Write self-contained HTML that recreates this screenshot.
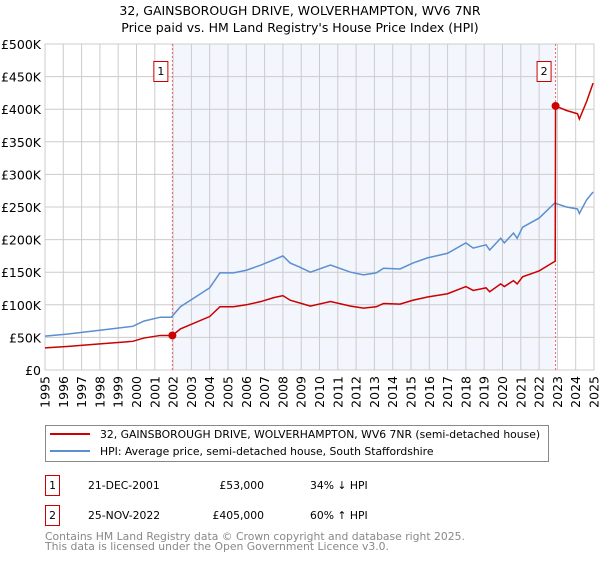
<!DOCTYPE html>
<html><head><meta charset="utf-8"><style>
body{margin:0;width:600px;height:560px;background:#fff;font-family:"DejaVu Sans","Liberation Sans",sans-serif;overflow:hidden}
svg text{font-family:"DejaVu Sans","Liberation Sans",sans-serif}
</style></head><body>
<svg id="c" width="600" height="560">
<text x="300" y="15" text-anchor="middle" font-size="12.5">32, GAINSBOROUGH DRIVE, WOLVERHAMPTON, WV6 7NR</text>
<text x="300" y="32" text-anchor="middle" font-size="12.5">Price paid vs. HM Land Registry's House Price Index (HPI)</text>
<g id="plot"></g>
<g>
<rect x="45.5" y="425.5" width="503" height="36" fill="#fff" stroke="#888"/>
<line x1="50" y1="434" x2="90" y2="434" stroke="#cc0000" stroke-width="2"/>
<text x="100" y="438" font-size="10.8">32, GAINSBOROUGH DRIVE, WOLVERHAMPTON, WV6 7NR (semi-detached house)</text>
<line x1="50" y1="451" x2="90" y2="451" stroke="#5b8fd0" stroke-width="2"/>
<text x="100" y="455" font-size="10.8">HPI: Average price, semi-detached house, South Staffordshire</text>
</g>
<g font-size="10.8">
<rect x="45.5" y="475.5" width="14" height="20" fill="#fff" stroke="#cc0000"/>
<text x="52.5" y="489" text-anchor="middle">1</text>
<text x="88" y="489">21-DEC-2001</text>
<text x="264" y="489" text-anchor="end">£53,000</text>
<text x="310" y="489">34% ↓ HPI</text>
<rect x="45.5" y="505.5" width="14" height="20" fill="#fff" stroke="#cc0000"/>
<text x="52.5" y="519" text-anchor="middle">2</text>
<text x="88" y="519">25-NOV-2022</text>
<text x="264" y="519" text-anchor="end">£405,000</text>
<text x="310" y="519">60% ↑ HPI</text>
</g>
<text x="45" y="540" font-size="10.8" fill="#888">Contains HM Land Registry data © Crown copyright and database right 2025.</text>
<text x="45" y="550" font-size="10.8" fill="#888">This data is licensed under the Open Government Licence v3.0.</text>
</svg>
<script>
const hpiYears=[1995,1996.2,1998,1999.8,2000.4,2001.3,2001.9,2002.4,2004.0,2004.56,2005.3,2006,2006.8,2007.5,2008.0,2008.4,2008.9,2009.5,2010.6,2011.7,2012.4,2013.1,2013.5,2014.4,2015.1,2015.9,2017.0,2018.0,2018.4,2019.1,2019.3,2019.9,2020.1,2020.6,2020.8,2021.1,2022.0,2022.85,2023.5,2024.1,2024.2,2024.6,2024.95];
const hpiValues=[52,55,61,67,75,81,81,97,126,149,149,153,161,169,175,164,158,150,161,150,146,149,156,155,164,172,179,195,187,192,184,202,195,210,202,219,233,256,250,247,240,261,273];
const priceYears=[1995,1996.2,1998,1999.8,2000.4,2001.3,2001.96,2002.4,2004.0,2004.56,2005.3,2006,2006.8,2007.5,2008.0,2008.4,2008.9,2009.5,2010.6,2011.7,2012.4,2013.1,2013.5,2014.4,2015.1,2015.9,2017.0,2018.0,2018.4,2019.1,2019.3,2019.9,2020.1,2020.6,2020.8,2021.1,2022.0,2022.88,2022.9,2023.5,2024.1,2024.2,2024.6,2024.95];
const priceValues=[34,36,40,44,49,53,53,63,82,97,97,100,105,111,114,107,103,98,105,98,95,97,102,101,107,112,117,128,122,126,120,132,128,137,132,143,152,167,405,398,393,385,412,440];
const saleYears=[2001.96,2022.9];
const saleValues=[53,405];
const yTicks=[0,50,100,150,200,250,300,350,400,450,500];
const yTickLabels=["£0","£50K","£100K","£150K","£200K","£250K","£300K","£350K","£400K","£450K","£500K"];
const xTicks=[1995,1996,1997,1998,1999,2000,2001,2002,2003,2004,2005,2006,2007,2008,2009,2010,2011,2012,2013,2014,2015,2016,2017,2018,2019,2020,2021,2022,2023,2024,2025];

const X0=45,X1=594,Y0=370,Y1=44;
const xs=y=>X0+(y-1995)/30*(X1-X0);
const ys=v=>Y0-v/500*(Y0-Y1);
const NS="http://www.w3.org/2000/svg";
const g=document.getElementById('plot');
function mk(t,a){const e=document.createElementNS(NS,t);for(const k in a)e.setAttribute(k,a[k]);g.appendChild(e);return e;}

const sh=mk('rect',{x:xs(saleYears[0]),y:Y1,width:xs(saleYears[1])-xs(saleYears[0]),height:Y0-Y1,fill:'#f3f6fd'});


xTicks.forEach(t=>{
 const l=mk('line',{x1:xs(t),x2:xs(t),y1:Y1,y2:Y0,stroke:'#cccccc'});
 
 
 const tx=mk('text',{x:0,y:0,'font-size':12.5,'text-anchor':'end',transform:`translate(${xs(t)+4.5},${Y0+6}) rotate(-90)`});
 tx.textContent=t;
 
 
});
yTicks.forEach((t,i)=>{
 const l=mk('line',{x1:X0,x2:X1,y1:ys(t),y2:ys(t),stroke:'#cccccc'});
 
 
 const tx=mk('text',{x:X0-4,y:ys(t)+5,'font-size':12.5,'text-anchor':'end'});
 tx.textContent=yTickLabels[i];
 
 
});
const bd=mk('rect',{x:X0,y:Y1,width:X1-X0,height:Y0-Y1,fill:'none',stroke:'#cccccc'});


saleYears.forEach((s,i)=>{
 const l=mk('line',{x1:xs(s),x2:xs(s),y1:Y1,y2:Y0,stroke:'#ee6666','stroke-dasharray':'2,2'});
 
 
 const r=mk('rect',{x:xs(s)-18.5,y:61.5,width:14,height:20,fill:'#fff',stroke:'#cc0000'});
 
 
 const t=mk('text',{x:xs(s)-11.5,y:75,'font-size':11,'text-anchor':'middle'});
 t.textContent=i+1;
 
 
});
const hp=mk('polyline',{points:hpiYears.map((y,i)=>xs(y)+','+ys(hpiValues[i])).join(' '),fill:'none',stroke:'#5b8fd0','stroke-width':1.5});


const pp=mk('polyline',{points:priceYears.map((y,i)=>xs(y)+','+ys(priceValues[i])).join(' '),fill:'none',stroke:'#cc0000','stroke-width':1.5});


saleYears.forEach((s,i)=>{
 const c=mk('circle',{cx:xs(s),cy:ys(saleValues[i]),r:4,fill:'#cc0000'});
 
 
});
</script>
</body></html>
